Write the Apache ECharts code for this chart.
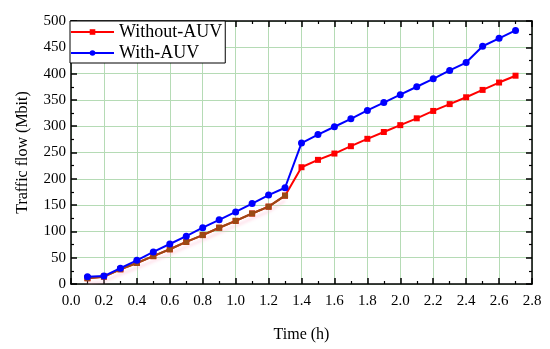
<!DOCTYPE html>
<html><head><meta charset="utf-8">
<script src="https://cdn.jsdelivr.net/npm/echarts@6/dist/echarts.min.js"></script>
<style>html,body{margin:0;padding:0;background:#fff}#c{width:550px;height:349px}</style>
</head><body><div id="c"></div>
<script>
const times = [0.1,0.2,0.3,0.4,0.5,0.6,0.7,0.8,0.9,1.0,1.1,1.2,1.3,1.4,1.5,1.6,1.7,1.8,1.9,2.0,2.1,2.2,2.3,2.4,2.5,2.6,2.7];
const withoutAUV = [11,14,28,40,53,66,80,93,107,120,134,147,168,222,236,248,262,276,289,302,315,329,342,355,369,383,396];
const withAUV = [14,15,30,45,61,76,91,107,122,137,153,169,183,268,284,299,314,330,345,360,375,390,406,421,452,467,482];
const xTicks = ['0.0','0.2','0.4','0.6','0.8','1.0','1.2','1.4','1.6','1.8','2.0','2.2','2.4','2.6','2.8'];
const yTicks = ['0','50','100','150','200','250','300','350','400','450','500'];

const font = 'Liberation Serif, Times New Roman, serif';
const pairs = (xs, ys) => xs.map((x, i) => [x, ys[i]]);
const brownPart = pairs(times, withoutAUV).filter(p => p[0] <= 1.3 + 1e-9);

const baseX = {
  type: 'value', min: 0, max: 2.8, interval: 0.2,
  axisLine: { show: true, onZero: false, lineStyle: { color: '#000', width: 1.5 } },
  axisTick: { show: true, inside: true, length: 6, lineStyle: { color: '#000', width: 1.5 } },
  minorTick: { show: true, splitNumber: 2, length: 3, lineStyle: { color: '#000', width: 1.2 } },
};
const baseY = {
  type: 'value', min: 0, max: 500, interval: 50,
  axisLine: { show: true, onZero: false, lineStyle: { color: '#000', width: 1.5 } },
  axisTick: { show: true, inside: true, length: 6, lineStyle: { color: '#000', width: 1.5 } },
  minorTick: { show: true, splitNumber: 2, length: 3, lineStyle: { color: '#000', width: 1.2 } },
};

const chart = echarts.init(document.getElementById('c'), null, { renderer: 'canvas' });
chart.setOption({
  animation: false,
  backgroundColor: '#fff',
  grid: { left: 71, right: 18, top: 21, bottom: 65 },
  legend: {
    left: 70, top: 21, orient: 'vertical',
    backgroundColor: '#fff', borderColor: '#000', borderWidth: 1,
    padding: [2, 3, 1, 0], itemGap: 3, itemWidth: 43, itemHeight: 7,
    textStyle: { fontFamily: font, fontSize: 18, color: '#000', padding: [0, 0, 0, 0] },
    data: ['Without-AUV', 'With-AUV']
  },
  xAxis: [
    Object.assign({}, baseX, {
      position: 'bottom',
      name: 'Time (h)', nameLocation: 'middle', nameGap: 43,
      nameTextStyle: { fontFamily: font, fontSize: 16, color: '#000' },
      axisLabel: { fontFamily: font, fontSize: 15, color: '#000', margin: 10,
        formatter: v => xTicks[Math.round(v / 0.2)] },
      splitLine: { show: true, lineStyle: { color: '#b5dbb5', width: 1 } }
    }),
    Object.assign({}, baseX, {
      position: 'top', axisLabel: { show: false }, splitLine: { show: false }
    })
  ],
  yAxis: [
    Object.assign({}, baseY, {
      position: 'left',
      name: 'Traffic flow (Mbit)', nameLocation: 'middle', nameGap: 40,
      nameTextStyle: { fontFamily: font, fontSize: 16, color: '#000' },
      axisLabel: { fontFamily: font, fontSize: 15, color: '#000', margin: 5,
        formatter: v => yTicks[Math.round(v / 50)] },
      splitLine: { show: true, lineStyle: { color: '#b5dbb5', width: 1 } }
    }),
    Object.assign({}, baseY, {
      position: 'right', axisLabel: { show: false }, splitLine: { show: false }
    })
  ],
  series: [
    {
      name: 'Without-AUV', type: 'line', xAxisIndex: 0, yAxisIndex: 0,
      data: pairs(times, withoutAUV),
      symbol: 'rect', symbolSize: 6, showAllSymbol: true,
      itemStyle: { color: '#ff0000' },
      lineStyle: { color: '#ff0000', width: 2 }, z: 3
    },
    {
      name: 'With-AUV', type: 'line', xAxisIndex: 0, yAxisIndex: 0,
      data: pairs(times, withAUV),
      symbol: 'circle', symbolSize: 7, showAllSymbol: true,
      itemStyle: { color: '#0000ff' },
      lineStyle: { color: '#0000ff', width: 2 }, z: 4
    },
    {
      name: 'overlap', type: 'line', xAxisIndex: 0, yAxisIndex: 0,
      data: brownPart,
      symbol: 'rect', symbolSize: 6, showAllSymbol: true,
      itemStyle: { color: '#9a4a14' },
      lineStyle: { color: '#9a4a14', width: 2, shadowColor: 'rgba(255,170,200,0.45)', shadowBlur: 3, shadowOffsetY: 5 },
      z: 3, silent: true
    }
  ]
});
</script></body></html>
